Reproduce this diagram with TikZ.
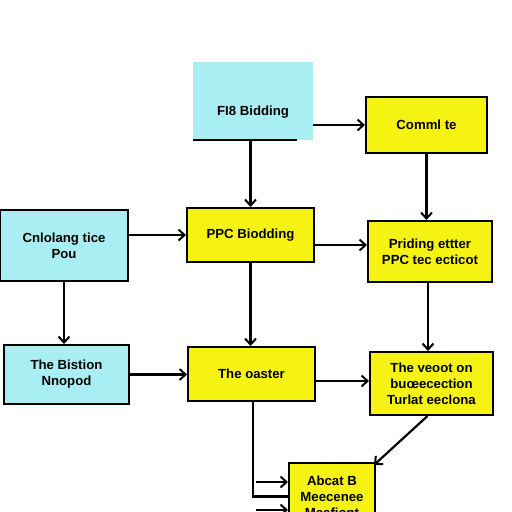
\documentclass[tikz,border=0pt]{standalone}
\usepackage{fontspec}
\setmainfont{Liberation Sans}
\usetikzlibrary{arrows.meta,calc}
\definecolor{cybox}{RGB}{168,238,242}
\definecolor{ylbox}{RGB}{246,243,18}
\tikzset{
  every node/.style={font=\bfseries\fontsize{13.2}{16}\selectfont, align=center, inner sep=0pt},
  cyanbox/.style={draw=black, line width=2pt, fill=cybox, rectangle},
  yellowbox/.style={draw=black, line width=2pt, fill=ylbox, rectangle},
  conn/.style={draw=black, line width=2.2pt},
  arr/.style={conn, -{Straight Barb[length=6pt,width=11pt,line width=2pt]}},
}
\begin{document}
\begin{tikzpicture}[x=1pt,y=-1pt]
\useasboundingbox (0,0) rectangle (512,512);
\fill[white] (0,0) rectangle (512,512);
\begin{scope}
\clip (0,0) rectangle (512,512);
% row 1
\node[fill=cybox, minimum width=120pt, minimum height=78pt] (A) at (253,101) {};
\node (At) at (253,112) {FI8 Bidding};
\draw[conn, line width=2pt] (A.south west) -- ([xshift=-16pt]A.south east);
\node[yellowbox, minimum width=121pt, minimum height=56pt] (B) at (426.5,125) {Comml te};
% row 2
\node[cyanbox, minimum width=128pt, minimum height=71pt] (C) at (64,245.5) {Cnlolang tice\\Pou};
\node[yellowbox, minimum width=127pt, minimum height=54pt] (D) at (250.5,235) {PPC Biodding};
\node[yellowbox, minimum width=124pt, minimum height=61pt] (E) at (430,251.5) {Priding ettter\\PPC tec ecticot};
% row 3
\node[cyanbox, minimum width=125pt, minimum height=59pt] (F) at (66.5,374.5) {The Bistion\\Nnopod};
\node[yellowbox, minimum width=127pt, minimum height=54pt] (G) at (251.5,374) {The oaster};
\node[yellowbox, minimum width=123pt, minimum height=63pt] (H) at (431.5,383.5) {The veoot on\\buœecection\\Turlat eeclona};
% bottom
\node[yellowbox, minimum width=86pt, minimum height=67pt] (I) at (332,496.5) {};
\node (It) at (332,497) {Abcat B\\Meecenee\\Mcafiont};
% connectors
\coordinate (d1) at ($(D.east)+(0,10)$);
\coordinate (g1) at ($(G.east)+(0,7)$);
\coordinate (s1) at (256,482);
\coordinate (s2) at (256,510);
\draw[arr] (A.east |- B.west) -- (B.west);
\draw[arr] (D.north |- A.south) -- (D.north);
\draw[arr] (B.south) -- (B.south |- E.north);
\draw[arr] (C.east |- D.west) -- (D.west);
\draw[arr] (d1) -- (d1 -| E.west);
\draw[arr] (C.south) -- (C.south |- F.north);
\draw[arr] (D.south) -- (D.south |- G.north);
\draw[arr] ([xshift=-2pt]E.south) -- ([xshift=-2pt]E.south |- H.north);
\draw[arr] (F.east) -- (F.east -| G.west);
\draw[arr] (g1) -- (g1 -| H.west);
\draw[arr] ([xshift=-4pt]H.south) -- ([xshift=-2pt,yshift=-3pt]I.north east);
\draw[conn] ([xshift=1.5pt]G.south) |- (I.west);
\draw[arr] (s1) -- (s1 -| I.west);
\draw[arr] (s2) -- (s2 -| I.west);
\end{scope}
\end{tikzpicture}
\end{document}
